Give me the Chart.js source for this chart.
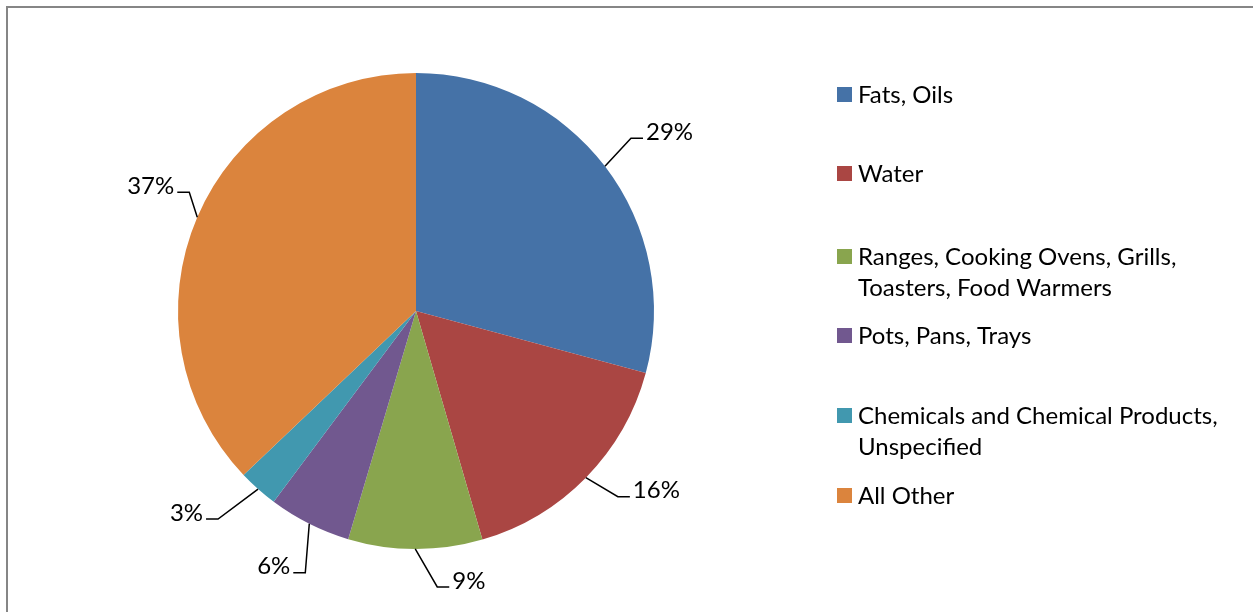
<!DOCTYPE html>
<html lang="en">
<head>
  <meta charset="UTF-8">
  <meta name="viewport" content="width=device-width, initial-scale=1.0">
  <script src="https://cdn.jsdelivr.net/npm/chart.js"></script>
  <title>Pie chart</title>
  <style>
    body{margin: 0; overflow: hidden; background: #fff;}
    #frame{position: absolute; left: 6px; top: 6px; width: 1400px; height: 800px; border-left: 2px solid #868686; border-top: 2px solid #868686;}
    #wrap{position: absolute; left: 0; top: 0; width: 1253px; height: 612px;}
  </style>
  <script>
    // data ======================
    const categories = [
      ['Fats, Oils'],
      ['Water'],
      ['Ranges, Cooking Ovens, Grills,', 'Toasters, Food Warmers'],
      ['Pots, Pans, Trays'],
      ['Chemicals and Chemical Products,', 'Unspecified'],
      ['All Other']
    ];
    const shares = [29.2, 16.3, 9.1, 5.6, 2.7, 37.1];
    const colors = ['#4572A7', '#AA4643', '#89A54E', '#71588F', '#4198AF', '#DB843D'];

    // layout of the callouts (elbow offset from the slice edge) and legend rows
    const calloutOffsets = [[26, -28], [32, 19], [22, 38], [-4, 49], [-40, 30], [-8, -25]];
    const legendRowY = [94, 173, 256, 335, 415, 495];

    const FONT = 'Lato, "Open Sans", sans-serif';

    // percent labels with leader lines
    const calloutPlugin = {
      id: 'callouts',
      afterDatasetsDraw(chart){
        const ctx = chart.ctx;
        const arcs = chart.getDatasetMeta(0).data;
        const vals = chart.data.datasets[0].data;
        const total = vals.reduce((a, b) => a + b, 0);
        ctx.save();
        ctx.strokeStyle = '#000';
        ctx.lineWidth = 1.5;
        ctx.fillStyle = '#000';
        ctx.font = '24px ' + FONT;
        ctx.textBaseline = 'middle';
        arcs.forEach((arc, i) => {
          const p = arc.getProps(['x', 'y', 'startAngle', 'endAngle', 'outerRadius'], true);
          const mid = (p.startAngle + p.endAngle) / 2;
          const ex = p.x + Math.cos(mid) * p.outerRadius;
          const ey = p.y + Math.sin(mid) * p.outerRadius;
          const off = calloutOffsets[i];
          const bx = ex + off[0];
          const by = ey + off[1];
          const dir = off[0] >= 0 ? 1 : -1;
          const hx = bx + dir * 12;
          ctx.beginPath();
          ctx.moveTo(ex, ey);
          ctx.lineTo(bx, by);
          ctx.lineTo(hx, by);
          ctx.stroke();
          const txt = Math.round(vals[i] / total * 100) + '%';
          ctx.textAlign = dir > 0 ? 'left' : 'right';
          ctx.fillText(txt, hx + dir * 3, by - 6);
        });
        ctx.restore();
      }
    };

    // legend on the right ======================
    const legendPlugin = {
      id: 'sideLegend',
      afterDraw(chart){
        const ctx = chart.ctx;
        const ds = chart.data.datasets[0];
        ctx.save();
        ctx.font = '24px ' + FONT;
        ctx.textBaseline = 'middle';
        ctx.textAlign = 'left';
        chart.data.labels.forEach((lab, i) => {
          const y = legendRowY[i];
          ctx.fillStyle = ds.backgroundColor[i];
          ctx.fillRect(837, y - 7, 15, 15);
          ctx.fillStyle = '#000';
          lab.forEach((line, j) => {
            ctx.fillText(line, 858, y + 1 + j * 31);
          });
        });
        ctx.restore();
      }
    };

    window.addEventListener('load', function(){
      const ctx = document.getElementById('myChart');
      new Chart(ctx, {
        type: 'pie',
        data: {
          labels: categories,
          datasets: [{
            data: shares,
            backgroundColor: colors,
            borderWidth: 0
          }]
        },
        options: {
          responsive: false,
          animation: false,
          layout: {
            padding: {left: 178, right: 599, top: 73, bottom: 63}
          },
          plugins: {
            legend: {display: false},
            tooltip: {enabled: false}
          }
        },
        plugins: [calloutPlugin, legendPlugin]
      });
    });
  </script>
</head>
<body>
  <div id="frame"></div>
  <div id="wrap">
    <canvas id="myChart" width="1253" height="612"></canvas>
  </div>
</body>
</html>
